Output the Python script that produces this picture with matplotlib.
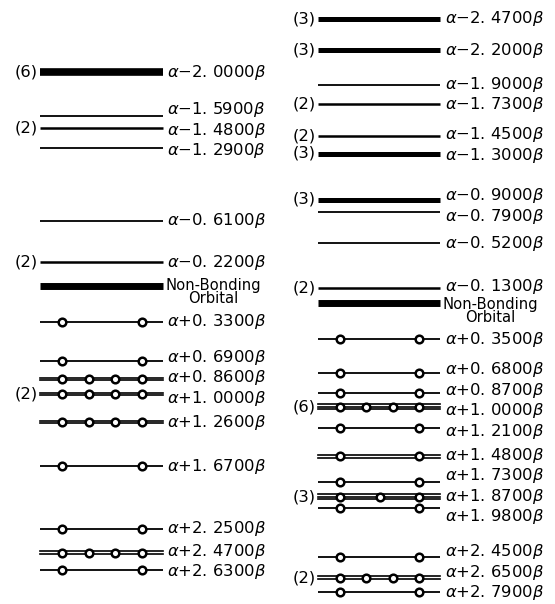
import numpy as np
import matplotlib.pyplot as plt
from matplotlib.transforms import offset_copy

# Left diagram: orbital energies (coefficient of beta), printed degeneracy, orbital count, electron dots
left_energy = [-2.00, -1.59, -1.48, -1.29, -0.61, -0.22, 0.00, 0.33, 0.69, 0.86,
               1.00, 1.26, 1.67, 2.25, 2.47, 2.63]
left_tags = ['(6)', '', '(2)', '', '', '(2)', '', '', '', '',
             '(2)', '', '', '', '', '']
left_deg = [6, 1, 2, 1, 1, 2, 1, 1, 1, 2, 2, 2, 1, 1, 2, 1]
left_dots = [0, 0, 0, 0, 0, 0, 0, 2, 2, 4, 4, 4, 2, 2, 4, 2]

# Right diagram
right_energy = [-2.47, -2.20, -1.90, -1.73, -1.45, -1.30, -0.90, -0.79, -0.52, -0.13,
                0.00, 0.35, 0.68, 0.87, 1.00, 1.21, 1.48, 1.73, 1.87, 1.98,
                2.45, 2.65, 2.79]
right_tags = ['(3)', '(3)', '', '(2)', '(2)', '(3)', '(3)', '', '', '(2)',
              '', '', '', '', '(6)', '', '', '', '(3)', '',
              '', '(2)', '']
right_deg = [3, 3, 1, 2, 2, 3, 3, 1, 1, 2, 1, 1, 1, 1, 6, 1, 2, 1, 3, 1, 1, 2, 1]
right_dots = [0, 0, 0, 0, 0, 0, 0, 0, 0, 0, 0, 2, 2, 2, 4, 2, 2, 2, 3, 2, 2, 4, 2]

widths = {1: 1.3, 2: 1.8, 3: 3.6, 6: 5.5}
FS = 11.8


def label_text(c):
    sign = '−' if c < 0 else '+'
    whole, frac = f'{abs(c):.4f}'.split('.')
    return f'$\\alpha${sign}{whole}. {frac}$\\beta$'


def spread(ys, up, down, gap=1.5, lo=2, hi=602):
    # push label boxes apart (display pixels, y up) so they do not overlap
    ys = np.array(ys, float)
    order = np.argsort(-ys)
    for _ in range(2000):
        moved = False
        for a, b in zip(order[:-1], order[1:]):
            d = (ys[a] - down[a]) - (ys[b] + up[b])
            if d < gap - 1e-6:
                s = (gap - d) / 2
                ys[a] += s
                ys[b] -= s
                moved = True
        ys = np.clip(ys, lo + down, hi - up)
        if not moved:
            break
    return ys


fig = plt.figure(figsize=(5.55, 6.04), dpi=100)


def draw_panel(rect, energy, tags, deg, dots, k_neg, k_pos, zero_px):
    ax = fig.add_axes(rect)
    fwd = lambda c: np.where(np.asarray(c) < 0, np.asarray(c) * k_neg, np.asarray(c) * k_pos)
    inv = lambda u: np.where(np.asarray(u) < 0, np.asarray(u) / k_neg, np.asarray(u) / k_pos)
    ax.set_yscale('function', functions=(fwd, inv))
    ax.set_xlim(-0.33, 1.94)
    ax.set_ylim((604 - zero_px) / k_pos, -zero_px / k_neg)
    ax.axis('off')

    labels = []
    for c, tag, g, n in zip(energy, tags, deg, dots):
        if c == 0:
            ax.plot([0, 1], [c, c], color='black', lw=5, solid_capstyle='butt')
            t = ax.text(1.02, c, 'Non-Bonding\nOrbital', ha='left', va='top',
                        multialignment='center', linespacing=0.85, fontsize=FS - 1.2,
                        transform=offset_copy(ax.transData, fig=fig, y=8, units='dots'))
            labels.append((t, c, 8))
            continue
        if n > 0 and g > 1:
            k = min(g, 3)
            for i in range(k):
                tr = offset_copy(ax.transData, fig=fig, y=(i - (k - 1) / 2) * 2.6, units='dots')
                ax.plot([0, 1], [c, c], color='black', lw=1.2, transform=tr)
        else:
            ax.plot([0, 1], [c, c], color='black', lw=widths[g], solid_capstyle='butt')
        if n:
            xs = np.linspace(0.18, 0.83, n)
            ax.plot(xs, [c] * n, 'o', ms=5.5, mfc='white', mec='black', mew=1.8)
        if tag:
            ax.text(-0.02, c, tag, ha='right', va='center', fontsize=FS)
        t = ax.text(1.04, c, label_text(c), ha='left', va='center', fontsize=FS)
        labels.append((t, c, 0))
    return ax, labels


panels = [
    draw_panel([0.0, 0.0, 0.5, 1.0], left_energy, left_tags, left_deg, left_dots, 107, 108, 286),
    draw_panel([0.5, 0.0, 0.5, 1.0], right_energy, right_tags, right_deg, right_dots, 115, 103.6, 303),
]

# measure the label boxes and nudge crowded labels apart
fig.canvas.draw()
renderer = fig.canvas.get_renderer()
for ax, labels in panels:
    cs = np.array([c for _, c, _ in labels])
    py = ax.transData.transform(np.column_stack([np.zeros(len(cs)), cs]))[:, 1]
    up, down = [], []
    for (t, c, off), y in zip(labels, py):
        bb = t.get_window_extent(renderer)
        up.append(bb.y1 - y)
        down.append(y - bb.y0)
    ny = spread(py, np.array(up), np.array(down))
    ly = ax.transData.inverted().transform(np.column_stack([np.zeros(len(cs)), ny]))[:, 1]
    for (t, c, off), y in zip(labels, ly):
        t.set_y(y)

fig.savefig('out.png', dpi=100)
